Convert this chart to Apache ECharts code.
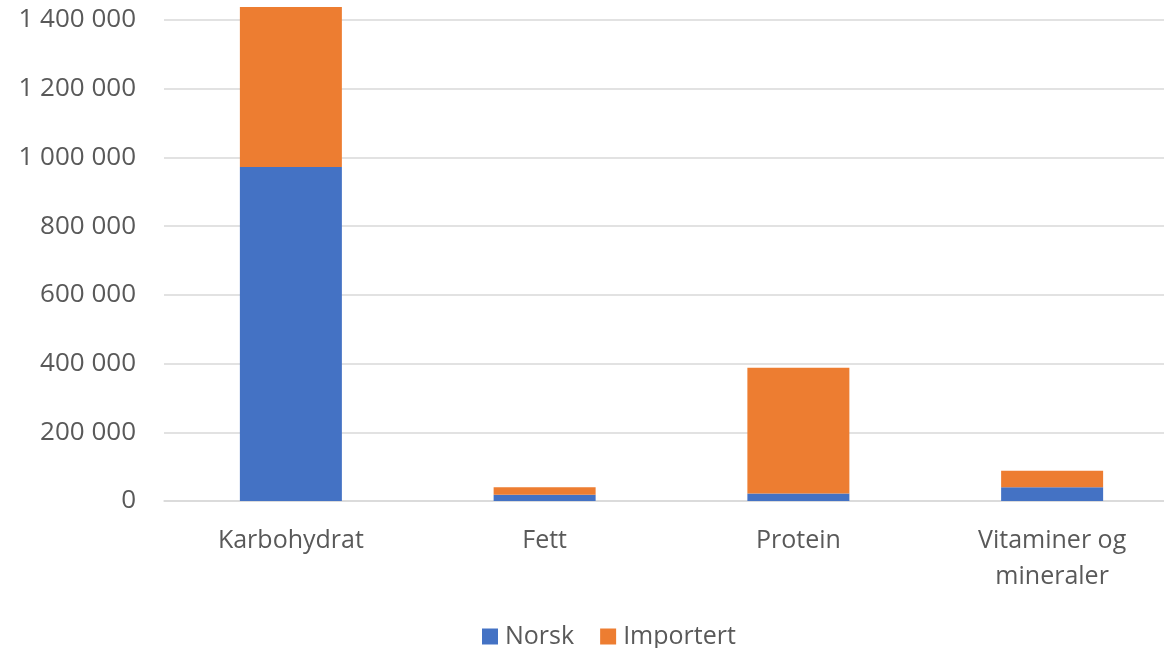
<!DOCTYPE html>
<html>
<head>
<meta charset="utf-8">
<script src="https://cdn.jsdelivr.net/npm/echarts@6/dist/echarts.min.js"></script>
<style>
  html, body { margin: 0; padding: 0; background: #fff; }
  #chart { width: 1164px; height: 648px; }
</style>
</head>
<body>
<div id="chart"></div>
<script>
var categories = ['Karbohydrat', 'Fett', 'Protein', 'Vitaminer og\nmineraler'];
var norsk = [972000, 18500, 22000, 40000];
var importert = [466000, 21500, 366000, 48000];
var yTicks = { min: 0, max: 1400000, interval: 200000 };

var myChart = echarts.init(document.getElementById('chart'));
var font = '"Open Sans", sans-serif';

function fmt(v) {
  return String(v).replace(/\B(?=(\d{3})+(?!\d))/g, ' ');
}

var option = {
  backgroundColor: '#fff',
  animation: false,
  grid: {
    left: 164,
    top: 20,
    width: 1015,
    height: 481,
    containLabel: false,
    outerBoundsMode: 'none'
  },
  legend: {
    left: 477,
    top: 619,
    itemWidth: 16,
    itemHeight: 16,
    itemGap: 26,
    icon: 'rect',
    textStyle: { color: '#595959', fontSize: 25, fontFamily: font, padding: [0, 0, 0, 2] },
    data: ['Norsk', 'Importert']
  },
  xAxis: {
    type: 'category',
    data: categories,
    axisLine: { lineStyle: { color: '#d9d9d9', width: 1.5 } },
    axisTick: { show: false },
    axisLabel: {
      interval: 0,
      color: '#595959',
      fontSize: 25,
      fontFamily: font,
      lineHeight: 36,
      margin: 22
    }
  },
  yAxis: {
    type: 'value',
    min: yTicks.min,
    max: yTicks.max,
    interval: yTicks.interval,
    axisLine: { show: false },
    axisTick: { show: false },
    splitLine: { lineStyle: { color: '#d9d9d9', width: 1.5 } },
    axisLabel: {
      color: '#595959',
      fontSize: 26,
      fontFamily: font,
      margin: 28,
      formatter: fmt
    }
  },
  series: [
    {
      name: 'Norsk',
      type: 'bar',
      stack: 'total',
      barWidth: 102,
      clip: false,
      data: norsk,
      itemStyle: { color: '#4472C4' }
    },
    {
      name: 'Importert',
      type: 'bar',
      stack: 'total',
      barWidth: 102,
      clip: false,
      data: importert,
      itemStyle: { color: '#ED7D31' }
    }
  ]
};

myChart.setOption(option);
</script>
</body>
</html>
